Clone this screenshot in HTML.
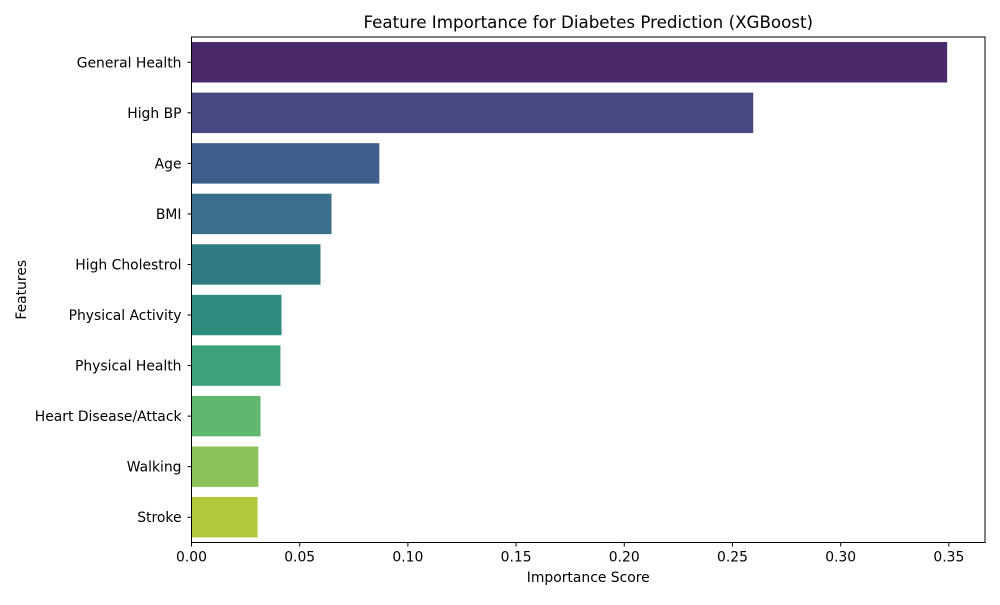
<!DOCTYPE html>
<html><head><meta charset="utf-8"><style>
body{margin:0;background:#fff;font-family:"Liberation Sans","DejaVu Sans",sans-serif;}
svg text{font-family:"DejaVu Sans","Liberation Sans",sans-serif;}
</style></head><body>
<svg id="chart" width="1000" height="600" xmlns="http://www.w3.org/2000/svg"></svg>
<script>
const categories=["General Health","High BP","Age","BMI","High Cholestrol","Physical Activity","Physical Health","Heart Disease/Attack","Walking","Stroke"];
const values=[0.3492,0.2596,0.0868,0.0647,0.0596,0.0416,0.0411,0.0319,0.0309,0.0305];
const colors=["#4a2a6b","#4a4882","#3f5d8a","#3b6e8b","#307b82","#2e8c7e","#3ca27a","#62b76e","#8bc35b","#b2c83a"];
const ticks=[0,0.05,0.10,0.15,0.20,0.25,0.30,0.35];
const tickLabels=["0.00","0.05","0.10","0.15","0.20","0.25","0.30","0.35"];
const L=191.5,R=985,T=37,B=542.5,xMax=0.3667;
const svg=document.getElementById('chart');const NS="http://www.w3.org/2000/svg";
function x(v){return L+v/xMax*(R-L);}
const band=(B-T)/categories.length;
function y(i){return T+band*(i+0.5);}
function mk(tag,a,parent){const e=document.createElementNS(NS,tag);for(const k in a)e.setAttribute(k,a[k]);(parent||svg).appendChild(e);return e;}
const title=mk('text',{x:(L+R)/2,y:28,'text-anchor':'middle','font-size':16.7,fill:'#000'});


title.textContent="Feature Importance for Diabetes Prediction (XGBoost)";
categories.forEach((c,i)=>{
 const r=mk('rect',{x:L,y:y(i)-band*0.4,width:x(values[i])-L,height:band*0.8,fill:colors[i]});
 
 
 mk('line',{x1:L-4,x2:L,y1:y(i),y2:y(i),stroke:'#000','stroke-width':1});
 const t=mk('text',{x:L-10,y:y(i)+5,'text-anchor':'end','font-size':13.9,fill:'#000'});
 
 
 t.textContent=c;
});
ticks.forEach((v,i)=>{
 mk('line',{x1:x(v),x2:x(v),y1:B,y2:B+4,stroke:'#000','stroke-width':1});
 const t=mk('text',{x:x(v),y:B+19,'text-anchor':'middle','font-size':13.9,fill:'#000'});
 
 
 t.textContent=tickLabels[i];
});
const ax=mk('rect',{x:L,y:T,width:R-L,height:B-T,fill:'none',stroke:'#000','stroke-width':1});


const xt=mk('text',{x:(L+R)/2,y:582,'text-anchor':'middle','font-size':13.9,fill:'#000'});


xt.textContent="Importance Score";
const yt=mk('text',{x:26,y:(T+B)/2,'text-anchor':'middle','font-size':13.9,fill:'#000',transform:`rotate(-90 26 ${(T+B)/2})`});


yt.textContent="Features";
</script>
</body></html>
